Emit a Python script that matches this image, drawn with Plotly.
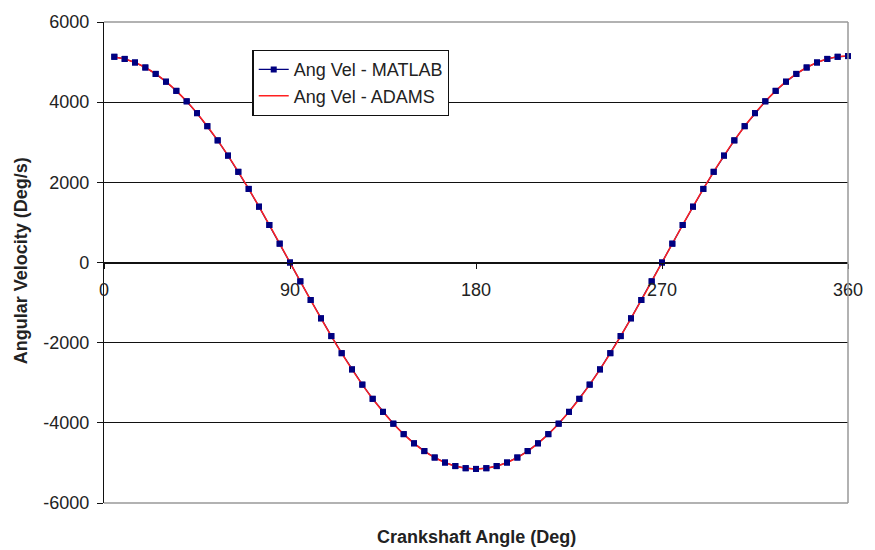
import plotly.graph_objects as go

# ---- data ----
angle_deg = [5, 10, 15, 20, 25, 30, 35, 40, 45, 50, 55, 60, 65, 70, 75, 80, 85, 90,
             95, 100, 105, 110, 115, 120, 125, 130, 135, 140, 145, 150, 155, 160, 165, 170, 175, 180,
             185, 190, 195, 200, 205, 210, 215, 220, 225, 230, 235, 240, 245, 250, 255, 260, 265, 270,
             275, 280, 285, 290, 295, 300, 305, 310, 315, 320, 325, 330, 335, 340, 345, 350, 355, 360]

matlab_vel = [5132, 5079, 4990, 4865, 4705, 4511, 4282, 4021, 3726, 3401, 3047, 2667, 2262, 1836, 1393, 936, 470, 0,
              -470, -936, -1393, -1836, -2262, -2667, -3047, -3401, -3726, -4021, -4282, -4511, -4705, -4865, -4990, -5079, -5132, -5150,
              -5132, -5079, -4990, -4865, -4705, -4511, -4282, -4021, -3726, -3401, -3047, -2667, -2262, -1836, -1393, -936, -470, 0,
              470, 936, 1393, 1836, 2262, 2667, 3047, 3401, 3726, 4021, 4282, 4511, 4705, 4865, 4990, 5079, 5132, 5150]

adams_angle = [4, 10, 15, 20, 25, 30, 35, 40, 45, 50, 55, 60, 65, 70, 75, 80, 85, 90,
               95, 100, 105, 110, 115, 120, 125, 130, 135, 140, 145, 150, 155, 160, 165, 170, 175, 180,
               185, 190, 195, 200, 205, 210, 215, 220, 225, 230, 235, 240, 245, 250, 255, 260, 265, 270,
               275, 280, 285, 290, 295, 300, 305, 310, 315, 320, 325, 330, 335, 340, 345, 350, 355, 362]
adams_vel = [5125, 5079, 4990, 4865, 4705, 4511, 4282, 4021, 3726, 3401, 3047, 2667, 2262, 1836, 1393, 936, 470, 0,
             -470, -936, -1393, -1836, -2262, -2667, -3047, -3401, -3726, -4021, -4282, -4511, -4705, -4865, -4990, -5079, -5132, -5150,
             -5132, -5079, -4990, -4865, -4705, -4511, -4282, -4021, -3726, -3401, -3047, -2667, -2262, -1836, -1393, -936, -470, 0,
             470, 936, 1393, 1836, 2262, 2667, 3047, 3401, 3726, 4021, 4282, 4511, 4705, 4865, 4990, 5079, 5132, 5155]

x_ticks = [0, 90, 180, 270, 360]
y_ticks = [-6000, -4000, -2000, 0, 2000, 4000, 6000]

FONT = "Liberation Sans, Arial, sans-serif"
NAVY = "#000080"
RED = "#ff2020"
TXT = "#222222"

fig = go.Figure()
fig.add_trace(go.Scatter(x=angle_deg, y=matlab_vel, mode="lines+markers", name="Ang Vel - MATLAB",
                         line=dict(color=NAVY, width=1.3),
                         marker=dict(symbol="square", size=6, color=NAVY)))
fig.add_trace(go.Scatter(x=adams_angle, y=adams_vel, mode="lines", name="Ang Vel - ADAMS",
                         line=dict(color=RED, width=1.5, shape="spline"), cliponaxis=False))
fig.add_trace(go.Scatter(x=angle_deg, y=matlab_vel, mode="markers", showlegend=False,
                         marker=dict(symbol="square", size=6, color=NAVY), cliponaxis=False))

fig.update_layout(
    width=875, height=550,
    margin=dict(l=104, r=19, t=17, b=47),
    paper_bgcolor="white", plot_bgcolor="white",
    font=dict(family=FONT, size=18, color=TXT),
    showlegend=True,
    legend=dict(x=0.1995, y=0.942, xanchor="left", yanchor="top",
                bgcolor="white", bordercolor="#111111", borderwidth=1.3,
                font=dict(family=FONT, size=18, color=TXT),
                tracegroupgap=0, itemwidth=30),
    xaxis=dict(range=[0, 360], tickvals=x_ticks, ticktext=[str(v) for v in x_ticks],
               anchor="free", position=0.5, showgrid=False, zeroline=False,
               showline=True, linecolor="#111111", linewidth=1.3,
               ticks="outside", ticklen=5, tickcolor="#111111", ticklabelstandoff=6,
               tickfont=dict(family=FONT, size=18, color=TXT)),
    yaxis=dict(range=[-6000, 6000], tickvals=y_ticks, ticktext=[str(v) for v in y_ticks],
               showgrid=True, gridcolor="#111111", gridwidth=1.2, zeroline=False,
               showline=True, linecolor="#111111", linewidth=1.3,
               ticks="outside", ticklen=6, tickcolor="#111111", ticklabelstandoff=4,
               tickfont=dict(family=FONT, size=18, color=TXT)),
    shapes=[
        dict(type="line", xref="paper", yref="paper", x0=0, x1=1, y0=1, y1=1,
             line=dict(color="#999999", width=1.5), layer="above"),
        dict(type="line", xref="paper", yref="paper", x0=0, x1=1, y0=0, y1=0,
             line=dict(color="#999999", width=1.5), layer="above"),
        dict(type="line", xref="paper", yref="paper", x0=1, x1=1, y0=0, y1=1,
             line=dict(color="#999999", width=1.5), layer="above"),
    ],
    annotations=[
        dict(text="<b>Crankshaft Angle (Deg)</b>", xref="paper", yref="paper",
             x=0.5, y=-0.07, xanchor="center", yanchor="middle", showarrow=False,
             font=dict(family=FONT, size=18, color=TXT)),
        dict(text="<b>Angular Velocity (Deg/s)</b>", xref="paper", yref="paper",
             x=-0.112, y=0.504, xanchor="center", yanchor="middle", showarrow=False,
             textangle=-90, font=dict(family=FONT, size=18, color=TXT)),
    ],
)

fig.write_html("out.html", config={"displayModeBar": False},
               post_script="document.body.style.margin='0';document.body.style.overflow='hidden';")
